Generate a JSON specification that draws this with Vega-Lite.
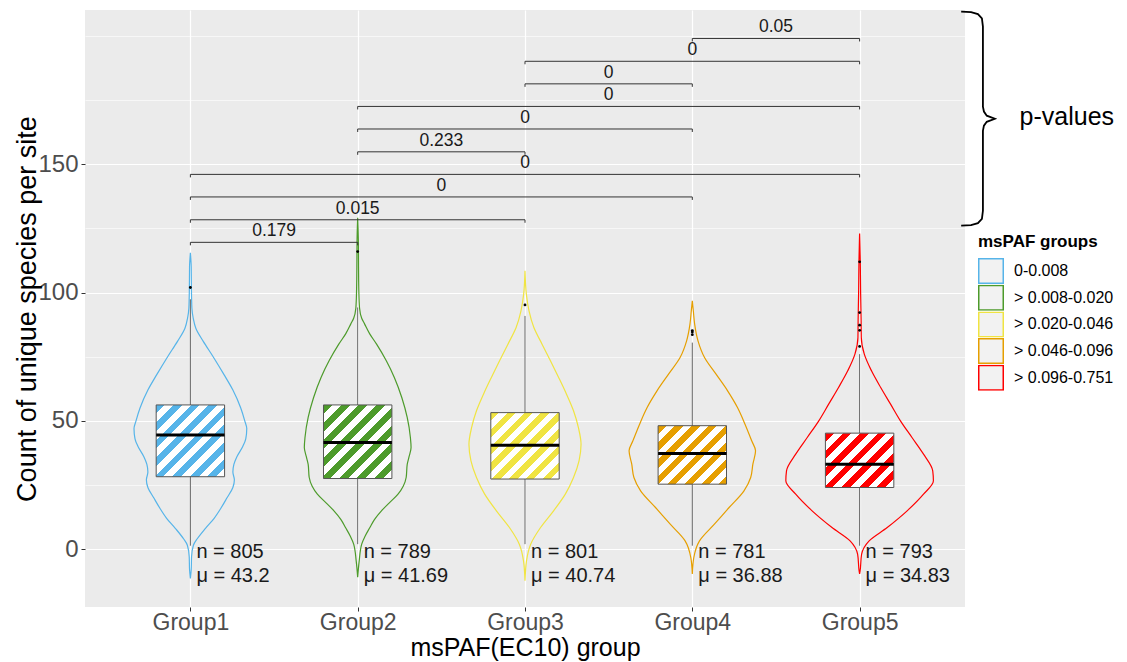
{
  "$schema": "https://vega.github.io/schema/vega-lite/v6.json",
  "width": 880,
  "height": 597,
  "autosize": {"type": "none"},
  "padding": {"left": 85, "top": 10, "right": 162, "bottom": 55},
  "background": "#FFFFFF",
  "config": {
    "view": {"fill": "#EBEBEB", "stroke": null},
    "font": "Liberation Sans"
  },
  "datasets": {
    "violin": [
      {"g":1,"y":115.5,"d":0},{"g":1,"y":110,"d":0.005},{"g":1,"y":102,"d":0.006},{"g":1,"y":94,"d":0.009},{"g":1,"y":90,"d":0.017},{"g":1,"y":86,"d":0.033},{"g":1,"y":81,"d":0.077},{"g":1,"y":75,"d":0.136},{"g":1,"y":68,"d":0.201},{"g":1,"y":62,"d":0.254},{"g":1,"y":55,"d":0.301},{"g":1,"y":50,"d":0.325},{"g":1,"y":47,"d":0.337},{"g":1,"y":43,"d":0.331},{"g":1,"y":40,"d":0.313},{"g":1,"y":36,"d":0.278},{"g":1,"y":33,"d":0.26},{"g":1,"y":30,"d":0.254},{"g":1,"y":27,"d":0.263},{"g":1,"y":24,"d":0.254},{"g":1,"y":20,"d":0.219},{"g":1,"y":16,"d":0.183},{"g":1,"y":12,"d":0.142},{"g":1,"y":8,"d":0.089},{"g":1,"y":4,"d":0.041},{"g":1,"y":1.5,"d":0.018},{"g":1,"y":-3,"d":0.007},{"g":1,"y":-8,"d":0.005},{"g":1,"y":-11.5,"d":0},
      {"g":2,"y":129.2,"d":0},{"g":2,"y":120,"d":0.004},{"g":2,"y":110,"d":0.005},{"g":2,"y":100,"d":0.007},{"g":2,"y":94,"d":0.011},{"g":2,"y":90,"d":0.024},{"g":2,"y":87.8,"d":0.041},{"g":2,"y":84,"d":0.071},{"g":2,"y":80,"d":0.112},{"g":2,"y":73.4,"d":0.171},{"g":2,"y":66.9,"d":0.219},{"g":2,"y":59,"d":0.264},{"g":2,"y":51.3,"d":0.296},{"g":2,"y":43.5,"d":0.315},{"g":2,"y":39.6,"d":0.319},{"g":2,"y":36,"d":0.307},{"g":2,"y":33,"d":0.296},{"g":2,"y":28,"d":0.29},{"g":2,"y":24.5,"d":0.272},{"g":2,"y":21.4,"d":0.241},{"g":2,"y":18,"d":0.189},{"g":2,"y":14.9,"d":0.142},{"g":2,"y":11.5,"d":0.1},{"g":2,"y":8.4,"d":0.073},{"g":2,"y":5,"d":0.044},{"g":2,"y":1.9,"d":0.024},{"g":2,"y":-4.6,"d":0.009},{"g":2,"y":-11,"d":0},
      {"g":3,"y":108.5,"d":0},{"g":3,"y":99.4,"d":0.008},{"g":3,"y":92.9,"d":0.024},{"g":3,"y":86.4,"d":0.053},{"g":3,"y":79.9,"d":0.102},{"g":3,"y":73.4,"d":0.152},{"g":3,"y":66.9,"d":0.201},{"g":3,"y":60.4,"d":0.248},{"g":3,"y":53.9,"d":0.29},{"g":3,"y":47.4,"d":0.319},{"g":3,"y":40.9,"d":0.335},{"g":3,"y":34.4,"d":0.323},{"g":3,"y":27.9,"d":0.29},{"g":3,"y":21.4,"d":0.241},{"g":3,"y":14.9,"d":0.171},{"g":3,"y":8.4,"d":0.093},{"g":3,"y":1.9,"d":0.034},{"g":3,"y":-4.6,"d":0.009},{"g":3,"y":-12.4,"d":0},
      {"g":4,"y":96.8,"d":0},{"g":4,"y":92.9,"d":0.006},{"g":4,"y":87.7,"d":0.014},{"g":4,"y":81.2,"d":0.034},{"g":4,"y":74.7,"d":0.073},{"g":4,"y":68.2,"d":0.142},{"g":4,"y":61.7,"d":0.211},{"g":4,"y":55.2,"d":0.27},{"g":4,"y":48.7,"d":0.315},{"g":4,"y":42.2,"d":0.355},{"g":4,"y":38.3,"d":0.378},{"g":4,"y":33.1,"d":0.362},{"g":4,"y":27.9,"d":0.349},{"g":4,"y":22.7,"d":0.309},{"g":4,"y":16.2,"d":0.22},{"g":4,"y":9.7,"d":0.132},{"g":4,"y":3.2,"d":0.043},{"g":4,"y":-3.3,"d":0.009},{"g":4,"y":-9.7,"d":0},
      {"g":5,"y":123,"d":0},{"g":5,"y":112,"d":0.004},{"g":5,"y":100,"d":0.006},{"g":5,"y":89,"d":0.009},{"g":5,"y":82.5,"d":0.01},{"g":5,"y":76,"d":0.028},{"g":5,"y":69.5,"d":0.071},{"g":5,"y":63,"d":0.126},{"g":5,"y":56.5,"d":0.185},{"g":5,"y":50,"d":0.244},{"g":5,"y":43.5,"d":0.313},{"g":5,"y":37,"d":0.382},{"g":5,"y":30.5,"d":0.437},{"g":5,"y":26.6,"d":0.441},{"g":5,"y":21.4,"d":0.382},{"g":5,"y":14.9,"d":0.284},{"g":5,"y":8.4,"d":0.165},{"g":5,"y":3.2,"d":0.057},{"g":5,"y":-2,"d":0.012},{"g":5,"y":-8.5,"d":0.003},{"g":5,"y":-9.7,"d":0}
    ],
    "boxes": [
      {"g":1,"lo":1.3,"q1":28.2,"med":44.5,"q3":56.2,"hi":97.4,"n":805,"mu":43.2},
      {"g":2,"lo":1.9,"q1":27.5,"med":41.5,"q3":56.2,"hi":94.2,"n":789,"mu":41.69},
      {"g":3,"lo":1.9,"q1":27.3,"med":40.5,"q3":53.2,"hi":90.9,"n":801,"mu":40.74},
      {"g":4,"lo":1.3,"q1":25.3,"med":37.3,"q3":48.1,"hi":80.5,"n":781,"mu":36.88},
      {"g":5,"lo":1.3,"q1":24,"med":33.1,"q3":45.2,"hi":76,"n":793,"mu":34.83}
    ],
    "outliers": [
      {"g":1,"y":102},{"g":2,"y":116},{"g":3,"y":95.2},{"g":4,"y":83.6},{"g":4,"y":84.6},{"g":4,"y":85.2},
      {"g":5,"y":79},{"g":5,"y":85.3},{"g":5,"y":87.3},{"g":5,"y":92.2},{"g":5,"y":112}
    ],
    "brackets": [
      {"a":1,"b":2,"y":119.6,"p":"0.179"},{"a":1,"b":3,"y":128.4,"p":"0.015"},{"a":1,"b":4,"y":137.3,"p":"0"},
      {"a":1,"b":5,"y":146.1,"p":"0"},{"a":2,"b":3,"y":154.9,"p":"0.233"},{"a":2,"b":4,"y":163.8,"p":"0"},
      {"a":2,"b":5,"y":172.6,"p":"0"},{"a":3,"b":4,"y":181.4,"p":"0"},{"a":3,"b":5,"y":190.2,"p":"0"},
      {"a":4,"b":5,"y":199.1,"p":"0.05"}
    ],
    "brace": [
      {"i":0,"x":5.607,"y":209.6},{"i":1,"x":5.666,"y":209.4},{"i":2,"x":5.707,"y":208.6},{"i":3,"x":5.731,"y":206.9},
      {"i":4,"x":5.737,"y":203.7},{"i":5,"x":5.737,"y":172.5},{"i":6,"x":5.743,"y":170.6},{"i":7,"x":5.76,"y":169.0},
      {"i":8,"x":5.808,"y":167.8},{"i":9,"x":5.76,"y":166.6},{"i":10,"x":5.743,"y":165.1},{"i":11,"x":5.737,"y":163.1},
      {"i":12,"x":5.737,"y":131.9},{"i":13,"x":5.731,"y":128.8},{"i":14,"x":5.707,"y":127.1},{"i":15,"x":5.666,"y":126.3},
      {"i":16,"x":5.607,"y":126.1}
    ],
    "note": [{"t":"p-values"}]
  },
  "layer": [
    {
      "data": {"name": "violin"},
      "transform": [
        {"calculate": "datum.g - datum.d", "as": "xl"},
        {"calculate": "datum.g + datum.d", "as": "xr"}
      ],
      "mark": {"type": "area", "orient": "horizontal", "filled": false, "strokeWidth": 1.2, "interpolate": "monotone"},
      "encoding": {
        "y": {
          "field": "y", "type": "quantitative",
          "scale": {"domain": [-22.6, 210.2], "nice": false, "zero": false},
          "axis": {
            "title": "Count of unique species per site",
            "values": [0, 25, 50, 75, 100, 125, 150, 175, 200],
            "labelExpr": "datum.value % 50 === 0 && datum.value <= 150 ? datum.label : ''",
            "grid": true, "gridColor": "#FFFFFF",
            "gridWidth": {"condition": {"test": "datum.value % 50 === 0 && datum.value <= 150", "value": 1.2}, "value": 0.6},
            "tickOpacity": {"condition": {"test": "datum.value % 50 === 0 && datum.value <= 150", "value": 1}, "value": 0},
            "domain": false, "tickColor": "#333333", "tickSize": 4, "tickWidth": 1,
            "labelColor": "#4D4D4D", "labelFontSize": 24, "labelPadding": 3, "labelOverlap": false,
            "titleFontSize": 27, "titleFontWeight": "normal", "titleColor": "#000000",
            "titleX": -58, "titleY": 298.5, "titleBaseline": "middle"
          }
        },
        "x": {
          "field": "xl", "type": "quantitative",
          "scale": {"domain": [0.4, 5.6], "nice": false, "zero": false},
          "axis": {
            "title": "msPAF(EC10) group",
            "values": [1, 2, 3, 4, 5],
            "labelExpr": "'Group' + datum.value",
            "grid": true, "gridColor": "#FFFFFF", "gridWidth": 1.2,
            "domain": false, "tickColor": "#333333", "tickSize": 4, "tickWidth": 1,
            "labelColor": "#4D4D4D", "labelFontSize": 23, "labelPadding": 0, "labelFlush": false,
            "titleFontSize": 25, "titleFontWeight": "normal", "titleColor": "#000000",
            "titleX": 440, "titleY": 40, "titleBaseline": "middle"
          }
        },
        "x2": {"field": "xr"},
        "color": {
          "field": "g", "type": "nominal",
          "scale": {"domain": [1, 2, 3, 4, 5], "range": ["#56B4E9", "#4D9B2B", "#F0E442", "#E69F00", "#FF0000"]},
          "legend": {
            "title": "msPAF groups",
            "orient": "none", "legendX": 893, "legendY": 224, "padding": 0,
            "labelExpr": "['0-0.008', '> 0.008-0.020', '> 0.020-0.046', '> 0.046-0.096', '> 0.096-0.751'][datum.value - 1]",
            "titleFontSize": 17, "titleFontWeight": "bold", "titleColor": "#000000", "titlePadding": 7,
            "labelFontSize": 16, "labelColor": "#000000", "labelOffset": 10,
            "symbolType": "square", "symbolSize": 600, "symbolStrokeWidth": 1.5,
            "symbolFillColor": "#F2F2F2", "symbolOpacity": 1, "clipHeight": 26, "rowPadding": 0.7
          }
        }
      }
    },
    {
      "data": {"name": "boxes"},
      "mark": {"type": "rule", "color": "#666666", "strokeWidth": 1},
      "encoding": {
        "x": {"field": "g", "type": "quantitative"},
        "y": {"field": "lo", "type": "quantitative"},
        "y2": {"field": "hi"}
      }
    },
    {
      "data": {"name": "boxes"},
      "mark": {"type": "bar", "width": 68.4, "stroke": "#555555", "strokeWidth": 1},
      "encoding": {
        "x": {"field": "g", "type": "quantitative"},
        "y": {"field": "q1", "type": "quantitative"},
        "y2": {"field": "q3"},
        "fill": {
          "condition": [
            {"test": "datum.g === 1", "value": {"gradient": "linear", "x1": 0, "y1": 0, "x2": 0.975, "y2": 1.024, "stops": [
              {"offset":0,"color":"#56B4E9"},{"offset":0.0625,"color":"#56B4E9"},{"offset":0.0625,"color":"#FFFFFF"},{"offset":0.125,"color":"#FFFFFF"},
              {"offset":0.125,"color":"#56B4E9"},{"offset":0.1875,"color":"#56B4E9"},{"offset":0.1875,"color":"#FFFFFF"},{"offset":0.25,"color":"#FFFFFF"},
              {"offset":0.25,"color":"#56B4E9"},{"offset":0.3125,"color":"#56B4E9"},{"offset":0.3125,"color":"#FFFFFF"},{"offset":0.375,"color":"#FFFFFF"},
              {"offset":0.375,"color":"#56B4E9"},{"offset":0.4375,"color":"#56B4E9"},{"offset":0.4375,"color":"#FFFFFF"},{"offset":0.5,"color":"#FFFFFF"},
              {"offset":0.5,"color":"#56B4E9"},{"offset":0.5625,"color":"#56B4E9"},{"offset":0.5625,"color":"#FFFFFF"},{"offset":0.625,"color":"#FFFFFF"},
              {"offset":0.625,"color":"#56B4E9"},{"offset":0.6875,"color":"#56B4E9"},{"offset":0.6875,"color":"#FFFFFF"},{"offset":0.75,"color":"#FFFFFF"},
              {"offset":0.75,"color":"#56B4E9"},{"offset":0.8125,"color":"#56B4E9"},{"offset":0.8125,"color":"#FFFFFF"},{"offset":0.875,"color":"#FFFFFF"},
              {"offset":0.875,"color":"#56B4E9"},{"offset":0.9375,"color":"#56B4E9"},{"offset":0.9375,"color":"#FFFFFF"},{"offset":1,"color":"#FFFFFF"}]}},
            {"test": "datum.g === 2", "value": {"gradient": "linear", "x1": 0, "y1": 0, "x2": 0.962, "y2": 1.035, "stops": [
              {"offset":0,"color":"#4D9B2B"},{"offset":0.0625,"color":"#4D9B2B"},{"offset":0.0625,"color":"#FFFFFF"},{"offset":0.125,"color":"#FFFFFF"},
              {"offset":0.125,"color":"#4D9B2B"},{"offset":0.1875,"color":"#4D9B2B"},{"offset":0.1875,"color":"#FFFFFF"},{"offset":0.25,"color":"#FFFFFF"},
              {"offset":0.25,"color":"#4D9B2B"},{"offset":0.3125,"color":"#4D9B2B"},{"offset":0.3125,"color":"#FFFFFF"},{"offset":0.375,"color":"#FFFFFF"},
              {"offset":0.375,"color":"#4D9B2B"},{"offset":0.4375,"color":"#4D9B2B"},{"offset":0.4375,"color":"#FFFFFF"},{"offset":0.5,"color":"#FFFFFF"},
              {"offset":0.5,"color":"#4D9B2B"},{"offset":0.5625,"color":"#4D9B2B"},{"offset":0.5625,"color":"#FFFFFF"},{"offset":0.625,"color":"#FFFFFF"},
              {"offset":0.625,"color":"#4D9B2B"},{"offset":0.6875,"color":"#4D9B2B"},{"offset":0.6875,"color":"#FFFFFF"},{"offset":0.75,"color":"#FFFFFF"},
              {"offset":0.75,"color":"#4D9B2B"},{"offset":0.8125,"color":"#4D9B2B"},{"offset":0.8125,"color":"#FFFFFF"},{"offset":0.875,"color":"#FFFFFF"},
              {"offset":0.875,"color":"#4D9B2B"},{"offset":0.9375,"color":"#4D9B2B"},{"offset":0.9375,"color":"#FFFFFF"},{"offset":1,"color":"#FFFFFF"}]}},
            {"test": "datum.g === 3", "value": {"gradient": "linear", "x1": 0, "y1": 0, "x2": 1.015, "y2": 0.985, "stops": [
              {"offset":0,"color":"#F0E442"},{"offset":0.0625,"color":"#F0E442"},{"offset":0.0625,"color":"#FFFFFF"},{"offset":0.125,"color":"#FFFFFF"},
              {"offset":0.125,"color":"#F0E442"},{"offset":0.1875,"color":"#F0E442"},{"offset":0.1875,"color":"#FFFFFF"},{"offset":0.25,"color":"#FFFFFF"},
              {"offset":0.25,"color":"#F0E442"},{"offset":0.3125,"color":"#F0E442"},{"offset":0.3125,"color":"#FFFFFF"},{"offset":0.375,"color":"#FFFFFF"},
              {"offset":0.375,"color":"#F0E442"},{"offset":0.4375,"color":"#F0E442"},{"offset":0.4375,"color":"#FFFFFF"},{"offset":0.5,"color":"#FFFFFF"},
              {"offset":0.5,"color":"#F0E442"},{"offset":0.5625,"color":"#F0E442"},{"offset":0.5625,"color":"#FFFFFF"},{"offset":0.625,"color":"#FFFFFF"},
              {"offset":0.625,"color":"#F0E442"},{"offset":0.6875,"color":"#F0E442"},{"offset":0.6875,"color":"#FFFFFF"},{"offset":0.75,"color":"#FFFFFF"},
              {"offset":0.75,"color":"#F0E442"},{"offset":0.8125,"color":"#F0E442"},{"offset":0.8125,"color":"#FFFFFF"},{"offset":0.875,"color":"#FFFFFF"},
              {"offset":0.875,"color":"#F0E442"},{"offset":0.9375,"color":"#F0E442"},{"offset":0.9375,"color":"#FFFFFF"},{"offset":1,"color":"#FFFFFF"}]}},
            {"test": "datum.g === 4", "value": {"gradient": "linear", "x1": 0, "y1": 0, "x2": 1.071, "y2": 0.916, "stops": [
              {"offset":0,"color":"#E69F00"},{"offset":0.0667,"color":"#E69F00"},{"offset":0.0667,"color":"#FFFFFF"},{"offset":0.1333,"color":"#FFFFFF"},
              {"offset":0.1333,"color":"#E69F00"},{"offset":0.2,"color":"#E69F00"},{"offset":0.2,"color":"#FFFFFF"},{"offset":0.2667,"color":"#FFFFFF"},
              {"offset":0.2667,"color":"#E69F00"},{"offset":0.3333,"color":"#E69F00"},{"offset":0.3333,"color":"#FFFFFF"},{"offset":0.4,"color":"#FFFFFF"},
              {"offset":0.4,"color":"#E69F00"},{"offset":0.4667,"color":"#E69F00"},{"offset":0.4667,"color":"#FFFFFF"},{"offset":0.5333,"color":"#FFFFFF"},
              {"offset":0.5333,"color":"#E69F00"},{"offset":0.6,"color":"#E69F00"},{"offset":0.6,"color":"#FFFFFF"},{"offset":0.6667,"color":"#FFFFFF"},
              {"offset":0.6667,"color":"#E69F00"},{"offset":0.7333,"color":"#E69F00"},{"offset":0.7333,"color":"#FFFFFF"},{"offset":0.8,"color":"#FFFFFF"},
              {"offset":0.8,"color":"#E69F00"},{"offset":0.8667,"color":"#E69F00"},{"offset":0.8667,"color":"#FFFFFF"},{"offset":0.9333,"color":"#FFFFFF"},
              {"offset":0.9333,"color":"#E69F00"},{"offset":1,"color":"#E69F00"}]}},
            {"test": "datum.g === 5", "value": {"gradient": "linear", "x1": 0, "y1": 0, "x2": 1.1, "y2": 0.875, "stops": [
              {"offset":0,"color":"#FF0000"},{"offset":0.0714,"color":"#FF0000"},{"offset":0.0714,"color":"#FFFFFF"},{"offset":0.1429,"color":"#FFFFFF"},
              {"offset":0.1429,"color":"#FF0000"},{"offset":0.2143,"color":"#FF0000"},{"offset":0.2143,"color":"#FFFFFF"},{"offset":0.2857,"color":"#FFFFFF"},
              {"offset":0.2857,"color":"#FF0000"},{"offset":0.3571,"color":"#FF0000"},{"offset":0.3571,"color":"#FFFFFF"},{"offset":0.4286,"color":"#FFFFFF"},
              {"offset":0.4286,"color":"#FF0000"},{"offset":0.5,"color":"#FF0000"},{"offset":0.5,"color":"#FFFFFF"},{"offset":0.5714,"color":"#FFFFFF"},
              {"offset":0.5714,"color":"#FF0000"},{"offset":0.6429,"color":"#FF0000"},{"offset":0.6429,"color":"#FFFFFF"},{"offset":0.7143,"color":"#FFFFFF"},
              {"offset":0.7143,"color":"#FF0000"},{"offset":0.7857,"color":"#FF0000"},{"offset":0.7857,"color":"#FFFFFF"},{"offset":0.8571,"color":"#FFFFFF"},
              {"offset":0.8571,"color":"#FF0000"},{"offset":0.9286,"color":"#FF0000"},{"offset":0.9286,"color":"#FFFFFF"},{"offset":1,"color":"#FFFFFF"}]}}
          ],
          "value": "#CCCCCC"
        }
      }
    },
    {
      "data": {"name": "boxes"},
      "mark": {"type": "tick", "orient": "horizontal", "size": 68.4, "thickness": 3, "color": "#000000", "opacity": 1},
      "encoding": {
        "x": {"field": "g", "type": "quantitative"},
        "y": {"field": "med", "type": "quantitative"}
      }
    },
    {
      "data": {"name": "outliers"},
      "mark": {"type": "circle", "size": 8, "color": "#000000", "opacity": 1},
      "encoding": {
        "x": {"field": "g", "type": "quantitative"},
        "y": {"field": "y", "type": "quantitative"}
      }
    },
    {
      "data": {"name": "boxes"},
      "transform": [{"calculate": "'n = ' + datum.n + '\\nμ = ' + datum.mu", "as": "lab"}],
      "mark": {"type": "text", "align": "left", "baseline": "middle", "dx": 6, "fontSize": 20, "lineHeight": 24, "lineBreak": "\n", "color": "#1A1A1A"},
      "encoding": {
        "x": {"field": "g", "type": "quantitative"},
        "y": {"datum": -1.1, "type": "quantitative"},
        "text": {"field": "lab"}
      }
    },
    {
      "data": {"name": "brackets"},
      "mark": {"type": "rule", "color": "#333333", "strokeWidth": 1},
      "encoding": {
        "x": {"field": "a", "type": "quantitative"},
        "x2": {"field": "b"},
        "y": {"field": "y", "type": "quantitative"}
      }
    },
    {
      "data": {"name": "brackets"},
      "transform": [{"fold": ["a", "b"], "as": ["end", "xe"]}],
      "mark": {"type": "rule", "color": "#333333", "strokeWidth": 1, "y2Offset": 3},
      "encoding": {
        "x": {"field": "xe", "type": "quantitative"},
        "y": {"field": "y", "type": "quantitative"},
        "y2": {"field": "y"}
      }
    },
    {
      "data": {"name": "brackets"},
      "transform": [{"calculate": "(datum.a + datum.b) / 2", "as": "xm"}],
      "mark": {"type": "text", "align": "center", "baseline": "alphabetic", "dy": -6, "fontSize": 17.5, "color": "#1A1A1A"},
      "encoding": {
        "x": {"field": "xm", "type": "quantitative"},
        "y": {"field": "y", "type": "quantitative"},
        "text": {"field": "p"}
      }
    },
    {
      "data": {"name": "brace"},
      "mark": {"type": "line", "color": "#000000", "strokeWidth": 1.8, "clip": false},
      "encoding": {
        "x": {"field": "x", "type": "quantitative"},
        "y": {"field": "y", "type": "quantitative"},
        "order": {"field": "i", "type": "quantitative"}
      }
    },
    {
      "data": {"name": "note"},
      "mark": {"type": "text", "align": "left", "baseline": "middle", "fontSize": 25, "color": "#000000"},
      "encoding": {
        "x": {"datum": 5.956, "type": "quantitative"},
        "y": {"datum": 168.6, "type": "quantitative"},
        "text": {"field": "t"}
      }
    }
  ]
}
